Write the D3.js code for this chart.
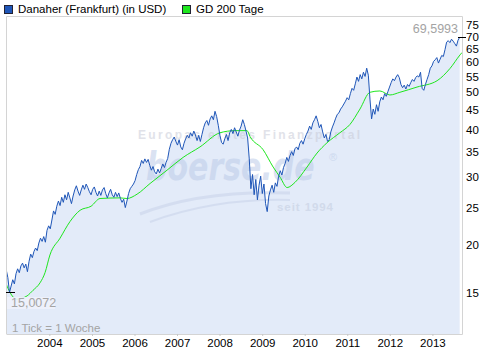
<!DOCTYPE html>
<html><head><meta charset="utf-8">
<script src="https://cdn.jsdelivr.net/npm/d3@7/dist/d3.min.js"></script>
<style>body{margin:0;background:#fff;} svg{display:block;font-family:"Liberation Sans",Arial,sans-serif;}</style>
</head><body><svg id="c" width="497" height="357"></svg>
<script>
// ---- data ----
const seriesName = "Danaher (Frankfurt) (in USD)";
const maName = "GD 200 Tage";
const startDate = "2002-12-27";   // first quote, one value every 2 weeks
const stepDays = 14;
const prices = [
 17.2,16.4,15.0072,15.6,16.2,15.8,16.8,17.3,16.9,17.6,17.9,17.4,17.8,17.0,18.1,18.9,18.5,19.2,19.6,19.3,20.2,20.8,20.4,21.0,20.3,21.8,
 22.4,22.0,23.2,24.5,24.0,25.2,26.0,25.3,26.6,25.8,27.0,26.2,27.4,26.5,25.6,26.8,27.8,28.5,27.6,26.9,27.8,28.6,27.9,28.8,28.2,27.5,
 27.0,27.9,28.3,27.4,26.8,27.6,26.9,27.8,28.2,27.2,26.5,27.3,27.9,27.0,26.6,27.4,26.7,27.3,26.4,25.8,26.3,25.0,26.0,27.2,28.0,28.4,
 28.8,29.4,30.5,31.4,32.0,33.2,32.6,33.5,32.8,33.4,32.2,31.3,32.0,31.0,30.6,31.5,30.8,31.6,32.5,31.8,32.8,33.6,35.5,36.8,37.6,38.2,
 37.2,36.4,37.6,36.0,35.4,36.8,37.8,38.6,38.0,39.2,38.4,39.6,38.7,37.4,38.6,37.2,38.8,40.4,41.6,42.2,41.0,42.6,43.4,42.4,44.6,43.2,
 41.0,38.6,37.0,36.6,37.8,38.8,37.4,39.2,40.0,39.0,40.4,39.4,38.4,39.8,40.8,42.4,41.2,39.6,38.0,33.5,28.0,30.5,27.0,29.6,26.2,28.6,
 30.2,27.2,28.8,25.6,24.4,26.8,27.8,28.6,27.4,29.0,28.4,30.2,31.2,30.4,31.8,32.6,33.8,33.0,34.2,35.0,34.2,35.6,36.0,35.4,36.8,37.4,
 36.6,37.8,38.8,39.6,40.8,40.0,41.6,42.4,43.4,42.0,40.4,41.2,39.4,38.0,38.8,37.2,37.6,39.4,40.6,41.6,42.8,43.8,44.2,45.2,45.8,46.6,
 47.4,48.4,47.8,49.6,51.2,50.6,52.6,54.8,53.4,55.6,54.2,56.4,55.0,57.8,55.4,48.0,42.6,45.2,43.8,46.4,44.6,47.2,48.6,47.8,49.6,48.8,
 50.2,51.6,53.0,54.2,53.6,54.8,55.6,54.6,52.4,51.4,52.2,51.0,52.4,51.8,53.0,54.0,53.4,54.6,55.2,54.8,56.4,51.2,50.6,52.4,54.0,55.6,
 57.8,58.6,60.2,60.8,61.6,59.6,61.0,62.4,62.0,64.6,67.6,68.2,67.4,68.8,68.0,67.0,66.0,68.4,69.5993
];
const maDates = ["2002-12-26","2003-01-29","2003-02-24","2003-03-30","2003-05-12","2003-06-24","2003-08-14","2003-10-13","2003-11-25",
 "2004-01-06","2004-04-02","2004-06-27","2004-09-21","2004-12-24","2005-03-11","2005-08-29","2005-10-28","2006-01-23","2006-05-15",
 "2006-10-07","2007-02-22","2007-07-17","2008-01-05","2008-05-13","2008-08-24","2008-09-19","2009-01-09","2009-04-05","2009-06-04",
 "2009-08-03","2009-10-10","2010-01-21","2010-04-17","2010-07-11","2010-10-30","2011-01-24","2011-04-20","2011-07-15","2011-10-08",
 "2012-01-02","2012-03-28","2012-08-22","2013-02-10","2013-06-01","2013-08-26","2013-09-12"];
const maValues = [15.8,15.0,14.6,14.4,14.5,14.7,15.2,15.9,16.9,
 18.8,20.8,23.0,24.6,25.2,26.4,26.5,26.4,27.1,28.9,
 31.3,33.8,36.0,39.2,39.7,39.7,38.3,35.4,31.9,30.0,
 28.2,29.1,31.9,34.7,36.9,39.2,41.2,45.2,50.0,50.4,
 49.2,50.0,51.6,53.6,57.7,62.6,63.5];
const yearTicks = [2004,2005,2006,2007,2008,2009,2010,2011,2012,2013];
const yTicks = [15,20,25,30,35,40,45,50,55,60,65,70,75];
const minLabel = "15,0072";
const lastLabel = "69,5993";
const noteText = "1 Tick = 1 Woche";

// ---- layout ----
const L = 6, R = 462, T = 16, B = 334;
const svg = d3.select("#c");
const parse = d3.timeParse("%Y-%m-%d");
const t0 = parse(startDate);
const pData = prices.map((v,i)=>({d:d3.timeDay.offset(t0,i*stepDays),v}));
const mData = maDates.map((s,i)=>({d:parse(s),v:maValues[i]}));

const x = d3.scaleTime().domain([new Date(2002,11,25), new Date(2013,8,12)]).range([L,R]);
const y = d3.scaleLog().domain([11.69,79.1]).range([B,T]);

svg.append("defs").append("clipPath").attr("id","clip")
  .append("rect").attr("x",L).attr("y",T).attr("width",R-L).attr("height",B-T);

const g = svg.append("g").attr("clip-path","url(#clip)");
g.append("rect").attr("x",L).attr("y",T).attr("width",R-L).attr("height",B-T).attr("fill","#fff");
g.append("path").datum(pData)
  .attr("d", d3.area().x(d=>x(d.d)).y0(B).y1(d=>y(d.v)))
  .attr("fill","#e3ebf9");

// watermark
const wm = g.append("g").attr("opacity",0.55);
wm.append("text").attr("x",138).attr("y",139).attr("font-size",12).attr("font-weight","bold")
  .attr("fill","#c9ccd8").attr("textLength",222).attr("lengthAdjust","spacing").text("Europas erstes Finanzportal");
wm.append("text").attr("transform","translate(146,180) scale(1,1.33)").attr("font-size",30).attr("font-weight","bold").attr("font-style","italic")
  .attr("font-family","DejaVu Sans").attr("fill","#bccbe8").text("boerse.de");
wm.append("text").attr("x",329).attr("y",161).attr("font-size",11).attr("fill","#bccbe8").text("®");
wm.append("text").attr("x",277).attr("y",211).attr("font-size",11.5).attr("font-weight","bold")
  .attr("fill","#c4cde0").attr("textLength",56).attr("lengthAdjust","spacing").text("seit 1994");
wm.append("path").attr("d","M140,214 Q200,190 290,193").attr("fill","none").attr("stroke","#c8d3ea").attr("stroke-width",3);
wm.append("path").attr("d","M150,222 Q215,198 290,200").attr("fill","none").attr("stroke","#c8d3ea").attr("stroke-width",2);

g.append("path").datum(mData)
  .attr("d", d3.line().x(d=>x(d.d)).y(d=>y(d.v)).curve(d3.curveMonotoneX))
  .attr("fill","none").attr("stroke","#1ee61e").attr("stroke-width",1);
g.append("path").datum(pData)
  .attr("d", d3.line().x(d=>x(d.d)).y(d=>y(d.v)))
  .attr("fill","none").attr("stroke","#1f56b8").attr("stroke-width",1);

// frame
svg.append("path").attr("d",`M${L+0.5},${B}V${T+0.5}H${R+0.5}V${B+0.5}H${L+0.5}`)
  .attr("fill","none").attr("stroke","#d4d4d4");

// min / last markers
const minV = d3.min(prices), lastV = prices[prices.length-1];
svg.append("line").attr("x1",L).attr("x2",L+9).attr("y1",Math.round(y(minV))+0.5).attr("y2",Math.round(y(minV))+0.5).attr("stroke","#000");
svg.append("line").attr("x1",R-4).attr("x2",R+4).attr("y1",Math.round(y(lastV))+0.5).attr("y2",Math.round(y(lastV))+0.5).attr("stroke","#000");
svg.append("rect").attr("x",L+1).attr("y",297).attr("width",48).attr("height",12).attr("fill","#eef2fb").attr("opacity",0.9);
svg.append("text").attr("x",L+5).attr("y",307).attr("font-size",12.5).attr("fill","#a4a4a4").text(minLabel);
svg.append("text").attr("x",R-4).attr("y",33).attr("text-anchor","end").attr("font-size",12.5).attr("fill","#a4a4a4").text(lastLabel);
svg.append("text").attr("x",L+6).attr("y",332).attr("font-size",11.5).attr("fill","#a4a4a4").text(noteText);

// y axis (right)
const ya = svg.append("g").attr("transform",`translate(${R},0)`)
  .call(d3.axisRight(y).tickValues(yTicks).tickFormat(d3.format("d")).tickSize(0).tickPadding(4));
ya.select(".domain").remove();
ya.selectAll("text").attr("font-size",11.5).attr("fill","#000").attr("font-family","Liberation Sans, Arial, sans-serif");

// x axis (bottom)
const xa = svg.append("g").attr("transform",`translate(0,${B})`)
  .call(d3.axisBottom(x).tickValues(yearTicks.map(yr=>new Date(yr,0,1))).tickFormat(d3.timeFormat("%Y")).tickSize(2).tickPadding(3));
xa.select(".domain").remove();
xa.selectAll("line").attr("stroke","#c8c8c8");
xa.selectAll("text").attr("font-size",11.5).attr("fill","#000").attr("font-family","Liberation Sans, Arial, sans-serif");

// legend
const leg = [{n:seriesName,c:"#1f56b8",x:4},{n:maName,c:"#1ee61e",x:182}];
leg.forEach(l=>{
  svg.append("rect").attr("x",l.x+0.5).attr("y",5.5).attr("width",8).attr("height",8).attr("fill",l.c).attr("stroke","#223");
  svg.append("text").attr("x",l.x+14).attr("y",13).attr("font-size",11.5).attr("fill","#000").text(l.n);
});
</script></body></html>
